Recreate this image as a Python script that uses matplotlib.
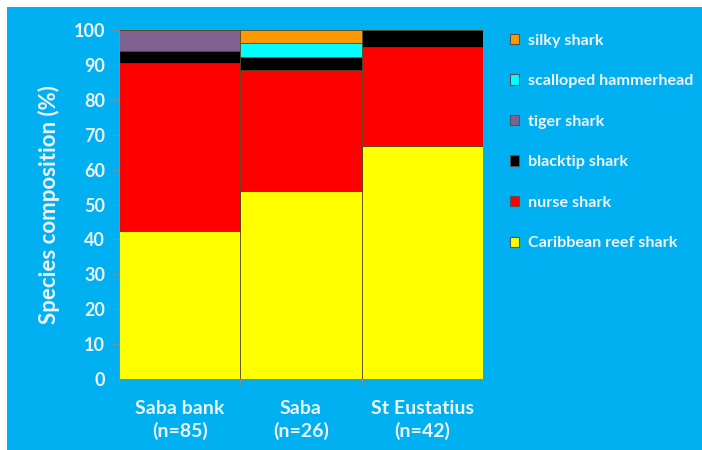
import matplotlib
matplotlib.use("Agg")
import matplotlib.pyplot as plt
from matplotlib.patches import Rectangle, Patch
import numpy as np

# Sites and sample sizes
sites = ["Saba bank", "Saba", "St Eustatius"]
n_sharks = [85, 26, 42]

# Number of sharks per species at each site (bottom to top in the stack)
species = ["Caribbean reef shark", "nurse shark", "blacktip shark",
           "tiger shark", "scalloped hammerhead", "silky shark"]
reef = [36, 14, 28]
nurse = [41, 9, 12]
blacktip = [3, 1, 2]
tiger = [5, 0, 0]
hammerhead = [0, 1, 0]
silky = [0, 1, 0]
colors = ["#FFFF00", "#FF0000", "#000000", "#80608F", "#00FFFF", "#FF9900"]

y_ticks = [0, 10, 20, 30, 40, 50, 60, 70, 80, 90, 100]

counts = np.array([reef, nurse, blacktip, tiger, hammerhead, silky], dtype=float)
percent = counts / np.array(n_sharks, dtype=float) * 100

bg = "#00B0F0"
txt = "#EEF3F8"
font = ["Lato", "DejaVu Sans"]

fig = plt.figure(figsize=(7.02, 4.50), dpi=100)
fig.patch.set_facecolor("white")
fig.patches.append(Rectangle((7 / 702, 0), 1, 1 - 7 / 450, transform=fig.transFigure,
                             facecolor=bg, edgecolor="none", zorder=-10))

ax = fig.add_axes([119 / 702, 1 - 379 / 450, (483 - 119) / 702, (379 - 30) / 450])
ax.set_facecolor(bg)
ax.patch.set_alpha(0)

x = np.arange(len(sites))
bottom = np.zeros(len(sites))
for name, vals, col in zip(species, percent, colors):
    ax.bar(x, vals, width=1.0, bottom=bottom, color=col,
           edgecolor="#5a4a20", linewidth=0.6, label=name)
    bottom += vals

ax.set_xlim(-0.5, 2.5)
ax.set_ylim(0, 100)
ax.set_yticks(y_ticks)
ax.set_yticklabels([str(t) for t in y_ticks], fontsize=13, color=txt,
                   family=font, fontweight="bold")
ax.set_xticks([-0.5, 0.5, 1.5, 2.5])
ax.set_xticklabels([])
ax.tick_params(axis="y", length=4, color="#8a8a8a", pad=6)
ax.tick_params(axis="x", length=4, color="#8a8a8a")
for side in ["top", "right"]:
    ax.spines[side].set_visible(False)
for side in ["left", "bottom"]:
    ax.spines[side].set_color("#8a8a8a")
    ax.spines[side].set_linewidth(0.8)

for xi, site, n in zip(x, sites, n_sharks):
    ax.text(xi, -0.06, f"{site}\n(n={n})", transform=ax.get_xaxis_transform(),
            ha="center", va="top", fontsize=14, color=txt, family=font,
            fontweight="bold", linespacing=1.3)

ax.set_ylabel("Species composition (%)", fontsize=16, color=txt, family=font,
              fontweight="bold", labelpad=10)

handles = [Patch(facecolor=c, edgecolor="#555555", linewidth=0.8) for c in colors]
leg = fig.legend(handles[::-1], species[::-1], loc="upper left",
                 bbox_to_anchor=(495 / 702, 1 - 19 / 450), frameon=False,
                 handlelength=0.62, handleheight=0.62, handletextpad=0.5,
                 labelspacing=1.65,
                 prop={"family": font, "size": 11.6, "weight": "bold"})
for t in leg.get_texts():
    t.set_color(txt)

fig.savefig("out.png", dpi=100, facecolor=fig.get_facecolor())
